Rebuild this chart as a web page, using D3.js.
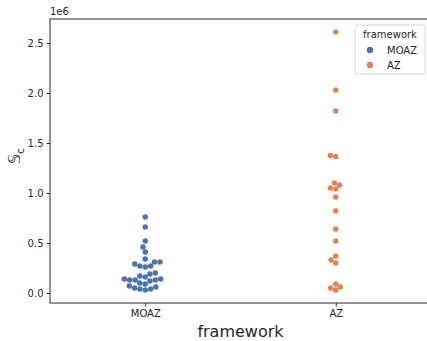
<!DOCTYPE html>
<html>
<head>
<meta charset="utf-8">
<script src="https://cdn.jsdelivr.net/npm/d3@7"></script>
<style>
  body { margin: 0; background: #fff; }
  text { font-family: "DejaVu Sans", sans-serif; fill: #262626; }
</style>
</head>
<body>
<svg width="427" height="341"></svg>
<script>
var categories = ["MOAZ", "AZ"];
var colors = ["#4c72b0", "#dd8452"];
// values in units of 1e6
var moazValues = [0.76, 0.66, 0.52, 0.46, 0.41, 0.34, 0.31, 0.31, 0.29, 0.27, 0.27, 0.26,
  0.20, 0.19, 0.17, 0.16, 0.14, 0.14, 0.13, 0.13, 0.13, 0.12, 0.10, 0.09, 0.07, 0.06,
  0.05, 0.04, 0.04, 0.03];
var azValues = [2.61, 2.03, 1.82, 1.375, 1.365, 1.10, 1.08, 1.05, 1.04, 0.96, 0.82,
  0.64, 0.52, 0.37, 0.33, 0.30, 0.09, 0.06, 0.05, 0.03];
var yTicks = [0, 0.5, 1.0, 1.5, 2.0, 2.5];

var svg = d3.select("svg");
var margin = {left: 50, top: 19, bottom: 303, right: 431};

var x = d3.scalePoint().domain(categories).range([margin.left, margin.right]).padding(0.5);
var y = d3.scaleLinear().domain([-0.1, 2.74]).range([margin.bottom, margin.top]);

// axes
var yAxis = svg.append("g")
  .attr("transform", "translate(" + margin.left + ",0)")
  .call(d3.axisLeft(y).tickValues(yTicks).tickFormat(d3.format(".1f")).tickSize(3.5).tickPadding(3));
yAxis.select(".domain").remove();
yAxis.selectAll("text").style("font-size", "10px").attr("fill", "#262626");
yAxis.selectAll("line").attr("stroke", "#262626");

var xAxis = svg.append("g")
  .attr("transform", "translate(0," + margin.bottom + ")")
  .call(d3.axisBottom(x).tickSize(3.5).tickPadding(3));
xAxis.select(".domain").remove();
xAxis.selectAll("text").style("font-size", "10px").attr("fill", "#262626");
xAxis.selectAll("line").attr("stroke", "#262626");

// spines
svg.append("rect")
  .attr("x", margin.left).attr("y", margin.top)
  .attr("width", margin.right - margin.left).attr("height", margin.bottom - margin.top)
  .attr("fill", "none").attr("stroke", "#262626").attr("stroke-width", 1);

// beeswarm placement (ties go to the left, like seaborn)
var r = 2.75;
function swarm(values, cx) {
  var placed = [];
  var sorted = values.slice().sort(function(a, b) { return a - b; });
  sorted.forEach(function(v) {
    var py = y(v);
    var lefts = [], rights = [];
    placed.forEach(function(p) {
      var dy = py - p.y;
      if (Math.abs(dy) < 2 * r) {
        var dx = Math.sqrt(4 * r * r - dy * dy) + 0.01;
        lefts.push(p.dx - dx);
        rights.push(p.dx + dx);
      }
    });
    var cands = [0].concat(lefts, rights);
    cands.sort(function(a, b) { return Math.abs(a) - Math.abs(b); });
    var best = 0;
    for (var i = 0; i < cands.length; i++) {
      var c = cands[i], ok = true;
      for (var j = 0; j < placed.length; j++) {
        var p = placed[j];
        if ((p.dx - c) * (p.dx - c) + (p.y - py) * (p.y - py) < 4 * r * r - 0.01) { ok = false; break; }
      }
      if (ok) { best = c; break; }
    }
    placed.push({dx: best, y: py, v: v});
  });
  return placed.map(function(p) { return {x: cx + p.dx, y: p.y}; });
}

[moazValues, azValues].forEach(function(vals, i) {
  var pts = swarm(vals, x(categories[i]));
  svg.append("g").selectAll("circle").data(pts).enter().append("circle")
    .attr("cx", function(d) { return d.x; })
    .attr("cy", function(d) { return d.y; })
    .attr("r", r)
    .attr("fill", colors[i]);
});

// labels
svg.append("text").attr("x", margin.left).attr("y", 15).style("font-size", "10px").text("1e6");
svg.append("text").attr("x", (margin.left + margin.right) / 2).attr("y", 337)
  .attr("text-anchor", "middle").style("font-size", "16px").text("framework");
svg.append("text").attr("transform", "translate(20,156) rotate(-90)")
  .attr("text-anchor", "middle").style("font-size", "16px")
  .html("\uD835\uDD4A<tspan dy='4' style='font-size:11px'>c</tspan>");

// legend
var lg = svg.append("g").attr("transform", "translate(355,25)");
lg.append("rect").attr("width", 70).attr("height", 49).attr("rx", 2.5)
  .attr("fill", "#fff").attr("fill-opacity", 0.8).attr("stroke", "#d6d6d6");
lg.append("text").attr("x", 35).attr("y", 13).attr("text-anchor", "middle")
  .style("font-size", "10px").text("framework");
categories.forEach(function(c, i) {
  lg.append("circle").attr("cx", 15).attr("cy", 25 + i * 15).attr("r", 3.2).attr("fill", colors[i]);
  lg.append("text").attr("x", 32).attr("y", 29 + i * 15).style("font-size", "10px").text(c);
});
</script>
</body>
</html>
